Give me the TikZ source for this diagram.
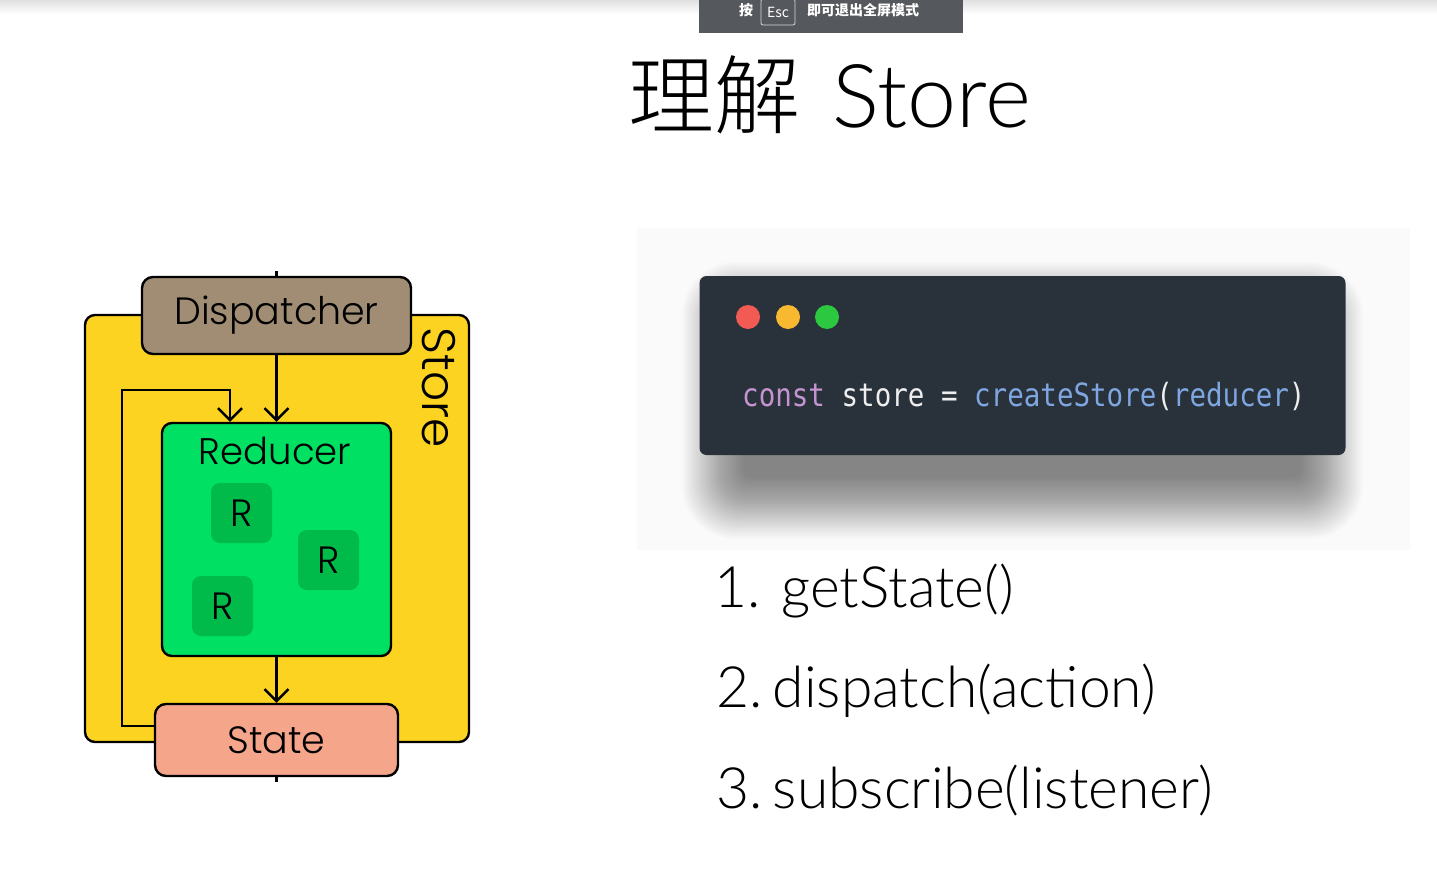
\documentclass[tikz,border=0pt]{standalone}
\usepackage{fontspec}
\usetikzlibrary{arrows.meta,calc}
\newfontfamily\cjk{Noto Sans CJK SC}
\IfFontExistsTF{Noto Sans CJK SC Light}{\newfontfamily\cjklight{Noto Sans CJK SC Light}}{\newfontfamily\cjklight{Noto Sans CJK SC}}
\IfFontExistsTF{Lato Light}{\newfontfamily\thinfont{Lato Light}}{\newfontfamily\thinfont{Lato}}
\IfFontExistsTF{Poppins Light}{\newfontfamily\diafont{Poppins Light}}{\newfontfamily\diafont{Poppins}}
\newfontfamily\codefont{DejaVu Sans Mono}[FakeStretch=0.86]
\definecolor{storeY}{HTML}{FCD320}
\definecolor{dispC}{HTML}{A08D74}
\definecolor{redG}{HTML}{00E062}
\definecolor{rG}{HTML}{00BA4A}
\definecolor{stateC}{HTML}{F4A58A}
\definecolor{cardC}{HTML}{29313A}
\definecolor{dotR}{HTML}{F25A54}
\definecolor{dotY}{HTML}{F8B930}
\definecolor{dotG}{HTML}{2BC840}
\definecolor{cPurple}{HTML}{C594D0}
\definecolor{cWhite}{HTML}{EEEEEE}
\definecolor{cBlue}{HTML}{7EA6E0}
\definecolor{barC}{HTML}{55585C}
\tikzset{
  box/.style={draw=black, line width=2.4pt, rounded corners=11pt, inner sep=0pt},
  rbox/.style={fill=rG, rounded corners=9pt, minimum width=61pt, minimum height=60pt, inner sep=0pt,
    font=\diafont\fontsize{38}{40}\selectfont},
  dtext/.style={font=\diafont\fontsize{38}{40}\selectfont},
  arr/.style={line width=2.5pt, -{Straight Barb[length=12pt,width=24pt,line width=2.5pt]}},
  dot/.style={circle, minimum size=24pt, inner sep=0pt},
  listitem/.style={anchor=base west, inner sep=0pt, font=\thinfont\fontsize{57}{60}\selectfont},
}
\begin{document}
\begin{tikzpicture}[x=1pt,y=-1pt]
\useasboundingbox (0,0) rectangle (1437,894);
\fill[white] (0,0) rectangle (1437,894);
\shade[top color=black!12, bottom color=white] (0,0) rectangle (1437,14);
% backdrop of the code image
\fill[black!2] (637,228) rectangle (1410,550);
% top bar
\fill[barC] (699,0) rectangle (963,33);
\node[text=white, font=\cjk\bfseries\fontsize{14}{16}\selectfont, inner sep=0pt] (an) at (746,10) {按};
\node[draw=white!85!black, rounded corners=2pt, line width=0.8pt, text=white, minimum width=34pt, minimum height=26pt, inner sep=0pt, font=\cjk\fontsize{14}{16}\selectfont] (esc) at (778,12) {Esc};
\node[text=white, font=\cjk\bfseries\fontsize{14}{16}\selectfont, inner sep=0pt] (quit) at (863,10) {即可退出全屏模式};
% title
\node[anchor=base, inner sep=0pt, font=\cjklight\fontsize{86}{90}\selectfont] (t1) at (714,127) {理解};
\node[anchor=base west, inner sep=0pt, font=\thinfont\fontsize{88}{90}\selectfont] (t2) at (832,127) {Store};
% diagram
\node[box, fill=storeY, rounded corners=10pt, minimum width=384pt, minimum height=427pt] (store) at (277,528.5) {};
\node[box, fill=dispC, minimum width=269pt, minimum height=77pt, dtext] (disp) at (276.5,315.5) {Dispatcher};
\node[box, fill=stateC, minimum width=243pt, minimum height=72pt, dtext] (state) at (276.5,740) {State};
\node[box, fill=redG, rounded corners=10pt, minimum width=229pt, minimum height=233pt] (red) at (276.5,539.5) {};
\node[inner sep=0pt, font=\diafont\fontsize{37}{40}\selectfont] (redlbl) at (275,451) {Reducer};
\node[inner sep=0pt, rotate=-90, font=\diafont\fontsize{47}{50}\selectfont] (storelbl) at (439,388) {Store};
\node[rbox] (r1) at (241.5,513) {R};
\node[rbox] (r2) at (328.5,560) {R};
\node[rbox] (r3) at (222.5,606) {R};
\draw[arr] (disp.south) -- (red.north);
\draw[arr] (red.south) -- (state.north);
\coordinate (lp) at (122,390);
\draw[arr] ([yshift=14pt]state.west) -| (lp) -| ([xshift=-46.5pt]red.north);
\draw[line width=2.4pt] (disp.north) -- ++(0,-5);
\draw[line width=2.4pt] (state.south) -- ++(0,5);
% code card shadow (many faint layers)
\foreach \i in {1,...,45}{
  \pgfmathsetmacro{\rc}{8+\i}
  \fill[black, opacity=0.01, rounded corners=\rc pt]
    ({745-1.4*\i}, {325-1.4*\i}) rectangle ({1300+1.4*\i}, {476+1.4*\i});
}
% code card
\node[fill=cardC, rounded corners=7pt, minimum width=646pt, minimum height=179pt, inner sep=0pt] (card) at (1022.5,365.5) {};
\node[dot, fill=dotR] (d1) at (748,317) {};
\node[dot, fill=dotY] (d2) at (788,317) {};
\node[dot, fill=dotG] (d3) at (827,317) {};
\node[anchor=base west, inner sep=0pt, font=\codefont\fontsize{32}{34}\selectfont] (code) at (742,406)
  {\textcolor{cPurple}{const} \textcolor{cWhite}{store =} \textcolor{cBlue}{createStore}\textcolor{cWhite}{(}\textcolor{cBlue}{reducer}\textcolor{cWhite}{)}};
% list
\node[listitem] (l1) at (714,607) {1. getState()};
\node[listitem] (l2) at (716,707) {2.\hspace{0.18em}dispatch(action)};
\node[listitem] (l3) at (716,808) {3.\hspace{0.18em}subscribe(listener)};
\end{tikzpicture}
\end{document}
